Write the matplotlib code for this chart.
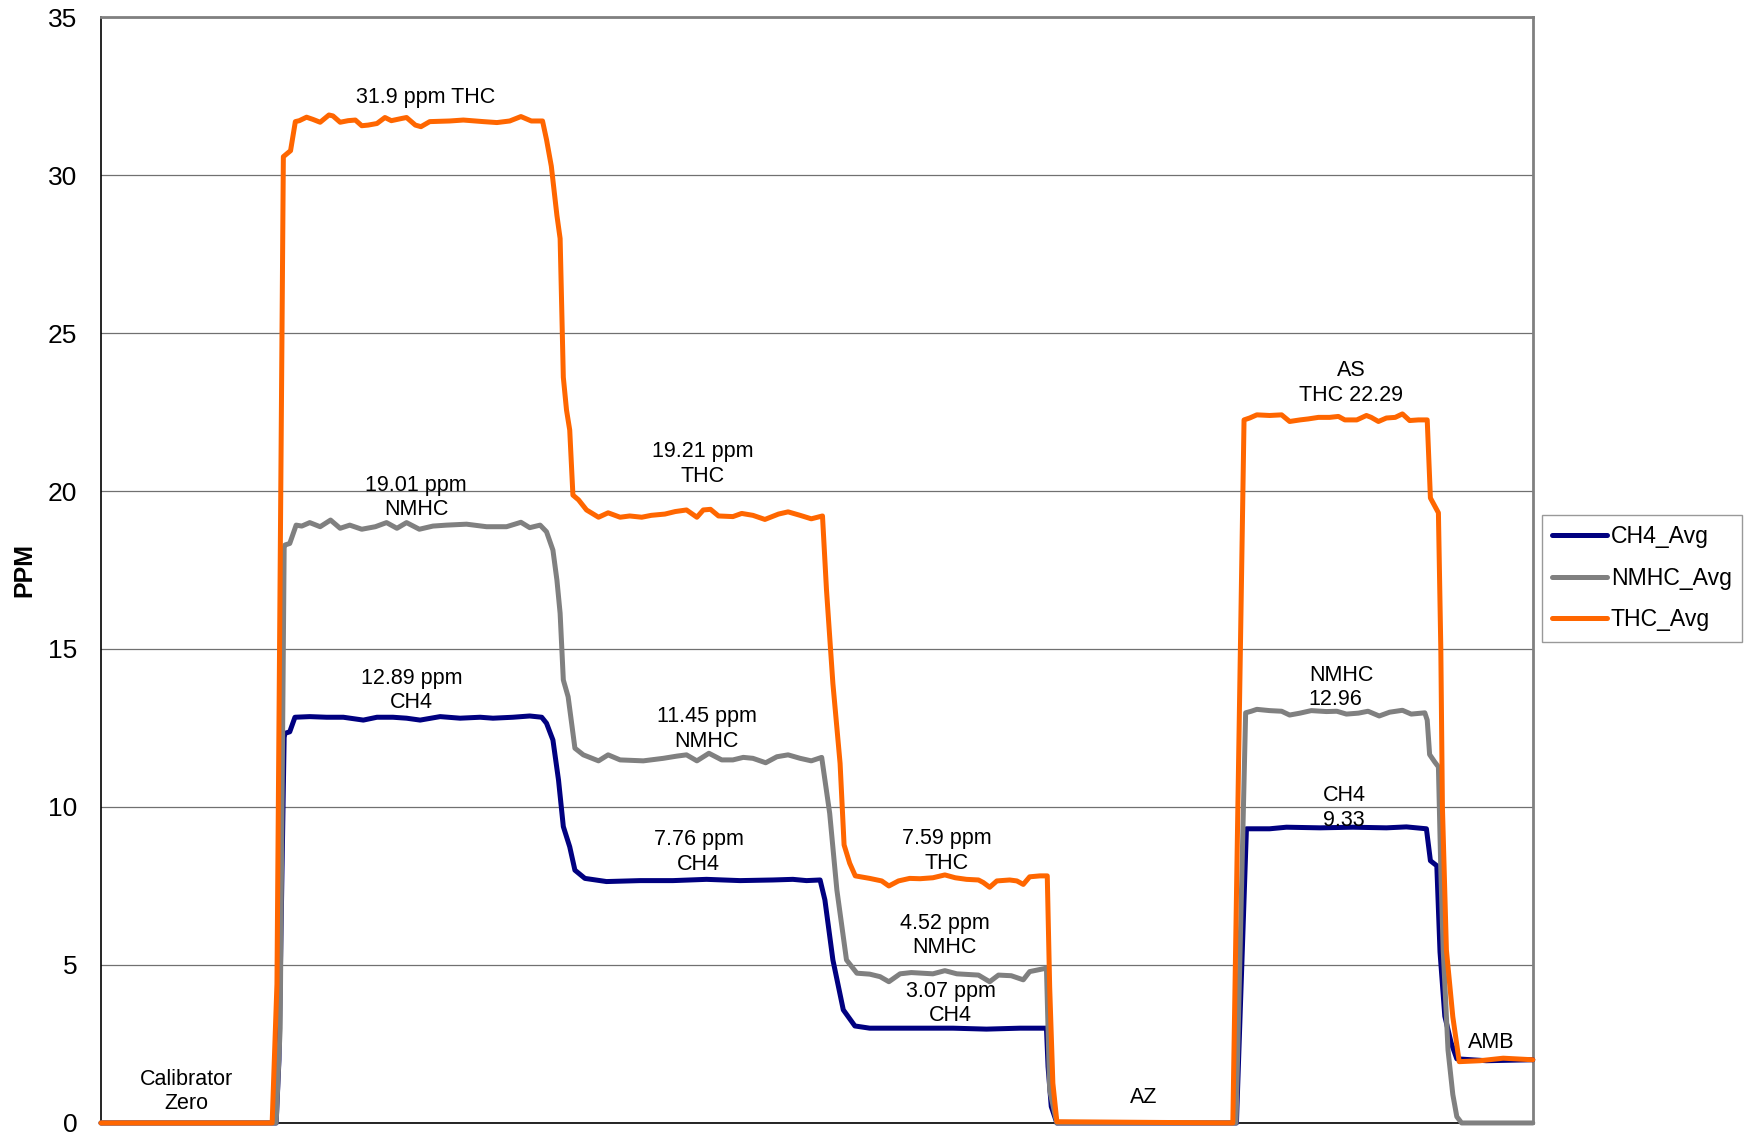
import matplotlib.pyplot as plt

plt.rcParams['font.family'] = ['Liberation Sans', 'DejaVu Sans']

# sample index (one sample ~ one logger interval)
thc_x = [0, 21.4, 22.0, 22.8, 23.7, 24.3, 24.8, 25.7, 26.5, 27.4, 28.5, 29.0, 29.9, 30.9, 31.8,
         32.6, 33.4, 34.5, 35.5, 36.3, 37.6, 38.2, 39.3, 40.0, 41.1, 43.6, 45.3, 47.8, 49.5,
         51.1, 52.5, 53.8, 55.2, 55.7, 56.3, 57.0, 57.4, 57.8, 58.2, 58.6, 59.0, 59.7, 60.7,
         62.2, 63.4, 64.9, 66.1, 67.6, 68.8, 70.5, 71.8, 73.2, 74.5, 75.3, 76.2, 77.2, 79.0,
         80.1, 81.5, 83.0, 84.7, 85.9, 87.4, 88.8, 90.2, 90.7, 91.5, 92.4, 92.9, 93.6, 94.3,
         96.1, 97.6, 98.5, 99.7, 101.1, 102.4, 104.0, 105.5, 106.8, 108.2, 109.7, 110.3, 111.1,
         112.0, 113.6, 114.5, 115.3, 116.1, 117.4, 118.3, 118.6, 119.0, 119.5, 141.5, 142.9,
         143.6, 144.5, 146.1, 147.6, 148.6, 149.9, 150.9, 152.2, 153.6, 154.7, 155.5, 157.0,
         158.2, 158.8, 159.7, 160.7, 161.8, 162.7, 163.6, 164.7, 165.8, 166.2, 167.2, 167.5,
         167.7, 168.2, 169.0, 169.8, 172.4, 175.3, 179.0]
thc = [0, 0, 4.4, 30.58, 30.77, 31.69, 31.72, 31.83, 31.76, 31.67, 31.90, 31.87, 31.67, 31.72,
       31.74, 31.56, 31.58, 31.63, 31.82, 31.72, 31.79, 31.82, 31.58, 31.53, 31.69, 31.71,
       31.74, 31.69, 31.66, 31.71, 31.85, 31.71, 31.71, 31.12, 30.28, 28.72, 27.99, 23.6,
       22.56, 21.93, 19.87, 19.72, 19.40, 19.17, 19.31, 19.17, 19.21, 19.17, 19.23, 19.27,
       19.35, 19.40, 19.17, 19.40, 19.42, 19.21, 19.19, 19.29, 19.23, 19.10, 19.27, 19.34,
       19.23, 19.12, 19.21, 16.87, 13.91, 11.38, 8.80, 8.22, 7.82, 7.74, 7.66, 7.50, 7.66,
       7.74, 7.73, 7.76, 7.85, 7.76, 7.71, 7.69, 7.61, 7.46, 7.66, 7.69, 7.66, 7.55, 7.79,
       7.82, 7.82, 4.31, 1.26, 0.04, 0, 22.25, 22.31, 22.41, 22.39, 22.41, 22.20, 22.25,
       22.28, 22.33, 22.33, 22.36, 22.25, 22.25, 22.39, 22.33, 22.20, 22.31, 22.33, 22.44,
       22.23, 22.25, 22.25, 19.78, 19.31, 15.0, 10.0, 5.47, 3.36, 1.94, 1.97, 2.05, 2.0]

nmhc_x = [0, 21.9, 22.4, 22.9, 23.0, 23.6, 24.4, 25.1, 26.1, 27.4, 28.7, 29.9, 31.1, 32.6,
          34.3, 35.7, 37.0, 38.2, 39.8, 41.5, 43.2, 45.7, 48.2, 50.7, 52.5, 53.6, 54.9, 55.7,
          56.5, 57.0, 57.4, 57.8, 58.4, 59.25, 60.3, 62.2, 63.4, 64.9, 67.8, 70.3, 72.0, 73.2,
          74.5, 76.0, 77.6, 79.0, 80.3, 81.5, 83.1, 84.5, 85.9, 87.4, 88.8, 90.1, 91.1, 92.0,
          93.2, 94.5, 96.1, 97.4, 98.5, 99.9, 101.3, 104.0, 105.5, 107.0, 109.7, 111.1, 112.2,
          113.8, 115.3, 116.1, 118.2, 118.6, 119.5, 141.9, 143.1, 143.8, 144.5, 146.1, 147.6,
          148.6, 149.9, 151.3, 153.2, 154.5, 155.7, 157.2, 158.4, 159.8, 161.1, 162.7, 163.8,
          165.5, 165.8, 166.1, 166.75, 167.2, 167.5, 167.8, 168.4, 169.0, 169.5, 170.1, 179.0]
nmhc = [0, 0, 3.0, 18.2, 18.29, 18.34, 18.92, 18.89, 19.0, 18.87, 19.08, 18.82, 18.92, 18.79,
        18.87, 19.0, 18.82, 19.0, 18.79, 18.89, 18.92, 18.95, 18.87, 18.87, 19.01, 18.84,
        18.92, 18.71, 18.13, 17.18, 16.13, 14.02, 13.49, 11.86, 11.65, 11.46, 11.65, 11.49,
        11.46, 11.54, 11.61, 11.65, 11.46, 11.70, 11.49, 11.49, 11.57, 11.54, 11.40, 11.59,
        11.65, 11.54, 11.46, 11.57, 9.80, 7.37, 5.16, 4.74, 4.71, 4.63, 4.47, 4.72, 4.76,
        4.72, 4.82, 4.72, 4.68, 4.47, 4.68, 4.66, 4.53, 4.79, 4.90, 1.04, 0, 0, 12.98, 13.03,
        13.09, 13.05, 13.03, 12.91, 12.97, 13.05, 13.02, 13.03, 12.94, 12.97, 13.03, 12.88,
        13.0, 13.06, 12.94, 12.98, 12.75, 11.66, 11.42, 11.27, 8.0, 5.47, 2.31, 0.9, 0.2, 0, 0]

ch4_x = [0, 21.9, 22.25, 22.9, 23.0, 23.6, 24.25, 26.1, 28.2, 30.3, 32.8, 34.5, 36.5, 38.2,
         39.9, 42.4, 44.9, 47.4, 49.0, 51.5, 53.6, 55.1, 55.7, 56.5, 57.2, 57.8, 58.6, 59.25,
         60.5, 63.2, 67.4, 71.5, 75.7, 79.9, 84.0, 86.5, 88.2, 89.9, 90.5, 91.5, 92.8, 94.25,
         96.1, 102.4, 106.5, 110.7, 114.9, 118.2, 118.4, 118.8, 119.5, 141.95, 143.2, 146.1,
         148.2, 152.4, 156.5, 160.7, 163.2, 165.7, 166.2, 167.0, 167.4, 168.0, 168.8, 169.5,
         173.2, 179.0]
ch4 = [0, 0, 2.0, 12.2, 12.33, 12.38, 12.84, 12.86, 12.84, 12.84, 12.75, 12.84, 12.84, 12.81,
       12.75, 12.86, 12.81, 12.84, 12.81, 12.84, 12.88, 12.84, 12.65, 12.12, 10.85, 9.38,
       8.74, 8.0, 7.74, 7.64, 7.67, 7.67, 7.71, 7.67, 7.69, 7.71, 7.67, 7.69, 7.06, 5.16,
       3.58, 3.07, 3.0, 3.0, 3.0, 2.97, 3.0, 3.0, 1.78, 0.52, 0, 0, 9.31, 9.31, 9.36, 9.34,
       9.36, 9.34, 9.37, 9.31, 8.30, 8.14, 5.41, 3.38, 2.53, 2.03, 1.97, 2.0]

# annotations: (text, x, y, horizontal alignment)
notes = [
    ("31.9 ppm THC", 40.6, 32.45, 'center'),
    ("19.01 ppm\nNMHC", 39.4, 19.79, 'center'),
    ("12.89 ppm\nCH4", 38.8, 13.69, 'center'),
    ("19.21 ppm\nTHC", 75.2, 20.85, 'center'),
    ("11.45 ppm\nNMHC", 75.7, 12.47, 'center'),
    ("7.76 ppm\nCH4", 74.7, 8.57, 'center'),
    ("7.59 ppm\nTHC", 105.7, 8.60, 'center'),
    ("4.52 ppm\nNMHC", 105.5, 5.93, 'center'),
    ("3.07 ppm\nCH4", 106.2, 3.78, 'center'),
    ("Calibrator\nZero", 10.7, 1.0, 'center'),
    ("AZ", 130.4, 0.82, 'center'),
    ("AS\nTHC 22.29", 156.3, 23.42, 'center'),
    ("NMHC\n12.96", 151.0, 13.78, 'left'),
    ("CH4\n9.33", 152.75, 9.96, 'left'),
    ("AMB", 173.8, 2.56, 'center'),
]

fig = plt.figure(figsize=(17.44, 11.35), dpi=100)
ax = fig.add_axes([0.0579, 0.0106, 0.821, 0.9744])

ax.plot(ch4_x, ch4, color='#000080', lw=3.6, label='CH4_Avg', clip_on=False,
        solid_joinstyle='round', solid_capstyle='round', zorder=3)
ax.plot(nmhc_x, nmhc, color='#808080', lw=3.6, label='NMHC_Avg', clip_on=False,
        solid_joinstyle='round', solid_capstyle='round', zorder=3)
ax.plot(thc_x, thc, color='#FF6600', lw=3.6, label='THC_Avg', clip_on=False,
        solid_joinstyle='round', solid_capstyle='round', zorder=3)

for txt, x, y, ha in notes:
    ax.text(x, y, txt, ha=ha, va='center', fontsize=15.5, linespacing=1.22,
            multialignment=ha, zorder=4)

ax.set_xlim(0, 179)
ax.set_ylim(0, 35)
ax.set_yticks(range(0, 36, 5))
ax.set_xticks([])
ax.tick_params(axis='y', length=0, pad=17, labelsize=19)
ax.yaxis.grid(True, color='#707070', lw=0.9)
ax.set_axisbelow(True)
for side in ['left', 'bottom']:
    ax.spines[side].set_color('black')
    ax.spines[side].set_linewidth(1.2)
for side in ['top', 'right']:
    ax.spines[side].set_color('#808080')
    ax.spines[side].set_linewidth(2.0)

fig.text(0.014, 0.498, "PPM", rotation=90, ha='center', va='center',
         fontsize=18, fontweight='bold')

leg = ax.legend(loc='upper left', bbox_to_anchor=(0.884, 0.5463),
                bbox_transform=fig.transFigure, fontsize=16.6, frameon=True,
                fancybox=False, edgecolor='#808080', borderpad=0.45,
                handlelength=2.4, handletextpad=0.15, labelspacing=0.8,
                borderaxespad=0)
leg.get_frame().set_linewidth(1.0)
for ln in leg.get_lines():
    ln.set_linewidth(3.6)

fig.savefig('out.png', dpi=100)
